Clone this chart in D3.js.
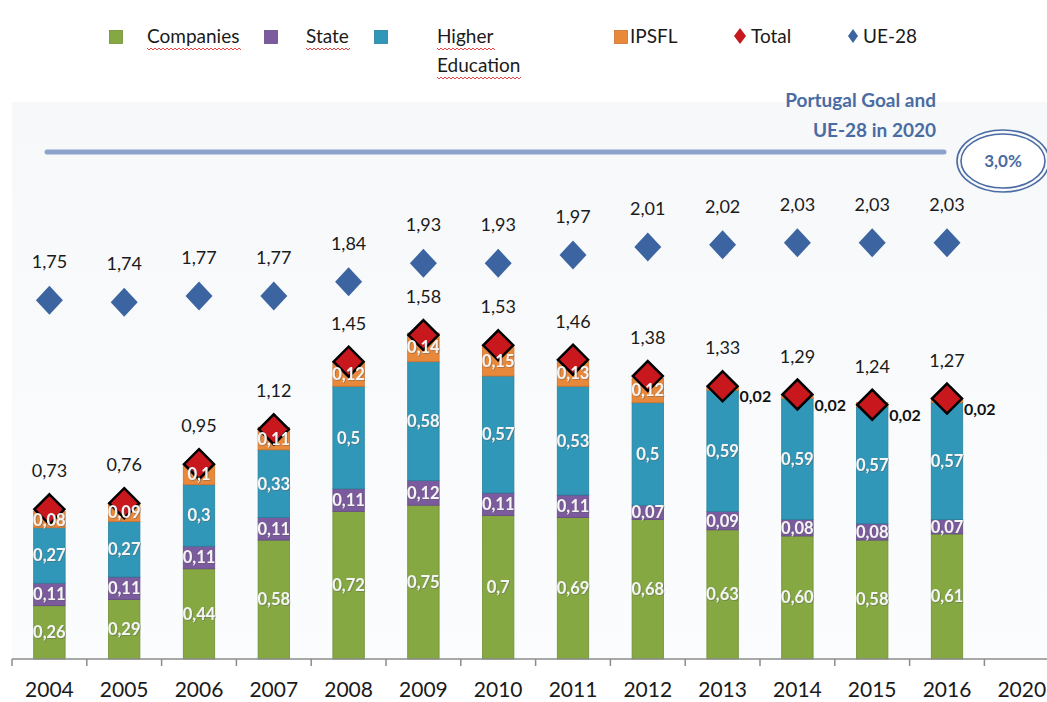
<!DOCTYPE html>
<html>
<head>
<meta charset="utf-8">
<script src="https://cdn.jsdelivr.net/npm/d3@7"></script>
<style>
  html, body { margin: 0; padding: 0; background: #fff; }
  svg { display: block; font-family: Lato, "Open Sans", sans-serif; }
</style>
</head>
<body>
<div id="chart"></div>
<script>
const width = 1047;
const height = 702;

// values as printed on the chart
const years = ['2004', '2005', '2006', '2007', '2008', '2009', '2010', '2011', '2012', '2013', '2014', '2015', '2016', '2020'];
const companies = ['0,26', '0,29', '0,44', '0,58', '0,72', '0,75', '0,7', '0,69', '0,68', '0,63', '0,60', '0,58', '0,61'];
const state = ['0,11', '0,11', '0,11', '0,11', '0,11', '0,12', '0,11', '0,11', '0,07', '0,09', '0,08', '0,08', '0,07'];
const higherEd = ['0,27', '0,27', '0,3', '0,33', '0,5', '0,58', '0,57', '0,53', '0,5', '0,59', '0,59', '0,57', '0,57'];
const ipsfl = ['0,08', '0,09', '0,1', '0,11', '0,12', '0,14', '0,15', '0,13', '0,12', '0,02', '0,02', '0,02', '0,02'];
const total = ['0,73', '0,76', '0,95', '1,12', '1,45', '1,58', '1,53', '1,46', '1,38', '1,33', '1,29', '1,24', '1,27'];
const ue28 = ['1,75', '1,74', '1,77', '1,77', '1,84', '1,93', '1,93', '1,97', '2,01', '2,02', '2,03', '2,03', '2,03'];
const goal = '3,0%';

const num = s => +s.replace(',', '.');

const series = [
  { key: 'Companies', values: companies, fill: '#85a843', stroke: '#6f8f35' },
  { key: 'State', values: state, fill: '#7b5b9e', stroke: '#654a85' },
  { key: 'Higher Education', values: higherEd, fill: '#3197b8', stroke: '#27809d' },
  { key: 'IPSFL', values: ipsfl, fill: '#e8883a', stroke: '#cc7230' }
];

const svg = d3.select('#chart')
  .append('svg')
  .attr('width', width)
  .attr('height', height);

const defs = svg.append('defs');
const grad = defs.append('linearGradient')
  .attr('id', 'bg').attr('x1', 0).attr('y1', 0).attr('x2', 0).attr('y2', 1);
grad.append('stop').attr('offset', '0%').attr('stop-color', '#f6f8fa');
grad.append('stop').attr('offset', '100%').attr('stop-color', '#fbfcfd');

const shadow = defs.append('filter').attr('id', 'shadow')
  .attr('x', '-20%').attr('y', '-30%').attr('width', '140%').attr('height', '160%');
shadow.append('feDropShadow')
  .attr('dx', 0.8).attr('dy', 0.8).attr('stdDeviation', 0.6)
  .attr('flood-color', '#555').attr('flood-opacity', 0.5);

const x = d3.scaleBand()
  .domain(years)
  .range([12, 12 + 74.8 * years.length]);

const y = d3.scaleLinear()
  .domain([0, 2.78])
  .range([659, 89]);

const barW = x.bandwidth() * 0.42;
const cx = yr => x(yr) + x.bandwidth() / 2;

// plot background
svg.append('rect')
  .attr('x', 12).attr('y', 102)
  .attr('width', width - 12).attr('height', y(0) - 102)
  .attr('fill', 'url(#bg)');

// stacked segments
const barYears = years.slice(0, companies.length);
const rows = barYears.map((yr, i) => {
  const row = { year: yr };
  series.forEach(s => { row[s.key] = num(s.values[i]); });
  return row;
});
const stack = d3.stack().keys(series.map(s => s.key))(rows);

const layers = svg.append('g').attr('class', 'bars')
  .selectAll('g')
  .data(stack)
  .join('g')
  .attr('fill', (d, i) => series[i].fill)
  .attr('stroke', (d, i) => series[i].stroke);

layers.selectAll('rect')
  .data(d => d)
  .join('rect')
  .attr('x', d => cx(d.data.year) - barW / 2)
  .attr('y', d => y(d[1]))
  .attr('width', barW)
  .attr('height', d => y(d[0]) - y(d[1]))
  .attr('stroke-width', 0.8);

// diamonds
const diamond = (w, h) => `M0,${-h}L${w},0L0,${h}L${-w},0Z`;

svg.append('g').attr('class', 'total')
  .selectAll('path')
  .data(total)
  .join('path')
  .attr('transform', (d, i) => `translate(${cx(years[i])},${y(num(d))})`)
  .attr('d', diamond(15, 15))
  .attr('fill', '#c8181e')
  .attr('stroke', '#000')
  .attr('stroke-width', 2.5)
  .attr('stroke-linejoin', 'miter');

// segment labels drawn over the diamonds (IPSFL 0,02 goes to the side)
const segLabels = svg.append('g').attr('class', 'seg-labels');
stack.forEach((layer, li) => {
  layer.forEach((d, i) => {
    const txt = series[li].values[i];
    const small = li === 3 && num(txt) < 0.05;
    if (small) {
      segLabels.append('text')
        .attr('x', cx(d.data.year) + 17)
        .attr('y', y(num(total[i])) + 16)
        .attr('font-size', 16)
        .attr('font-weight', 700)
        .attr('fill', '#111')
        .text(txt);
    } else {
      segLabels.append('text')
        .attr('x', cx(d.data.year))
        .attr('y', (y(d[0]) + y(d[1])) / 2)
        .attr('dy', '0.36em')
        .attr('text-anchor', 'middle')
        .attr('font-size', 16.5)
        .attr('font-weight', 700)
        .attr('fill', '#f5f5f5')
        .attr('filter', 'url(#shadow)')
        .text(txt);
    }
  });
});

svg.append('g').attr('class', 'total-labels')
  .selectAll('text')
  .data(total)
  .join('text')
  .attr('x', (d, i) => cx(years[i]))
  .attr('y', d => y(num(d)) - 32)
  .attr('text-anchor', 'middle')
  .attr('font-size', 18)
  .attr('fill', '#1a1a1a')
  .text(d => d);

svg.append('g').attr('class', 'ue28')
  .selectAll('path')
  .data(ue28)
  .join('path')
  .attr('transform', (d, i) => `translate(${cx(years[i])},${y(num(d))})`)
  .attr('d', diamond(13.5, 14.5))
  .attr('fill', '#3b64a0');

svg.append('g').attr('class', 'ue28-labels')
  .selectAll('text')
  .data(ue28)
  .join('text')
  .attr('x', (d, i) => cx(years[i]))
  .attr('y', d => y(num(d)) - 32)
  .attr('text-anchor', 'middle')
  .attr('font-size', 18)
  .attr('fill', '#1a1a1a')
  .text(d => d);

// x axis
const axis = svg.append('g').attr('class', 'axis');
axis.append('line')
  .attr('x1', 12).attr('x2', width)
  .attr('y1', y(0)).attr('y2', y(0))
  .attr('stroke', '#8c8c8c').attr('stroke-width', 1.5);
axis.selectAll('line.tick')
  .data(years)
  .join('line')
  .attr('class', 'tick')
  .attr('x1', d => x(d)).attr('x2', d => x(d))
  .attr('y1', y(0)).attr('y2', y(0) + 7)
  .attr('stroke', '#8c8c8c').attr('stroke-width', 1.5);
axis.selectAll('text')
  .data(years)
  .join('text')
  .attr('x', d => cx(d))
  .attr('y', 697)
  .attr('text-anchor', 'middle')
  .attr('font-size', 21)
  .attr('fill', '#1a1a1a')
  .text(d => d);

// goal annotation
svg.append('line')
  .attr('x1', 47).attr('x2', 944)
  .attr('y1', 152).attr('y2', 152)
  .attr('stroke', '#8ca4cb').attr('stroke-width', 5)
  .attr('stroke-linecap', 'round');

const goalText = svg.append('g')
  .attr('font-size', 19).attr('font-weight', 700)
  .attr('fill', '#4a6ca3').attr('text-anchor', 'end');
goalText.append('text').attr('x', 936).attr('y', 107).text('Portugal Goal and');
goalText.append('text').attr('x', 936).attr('y', 137).text('UE-28 in 2020');

const ell = svg.append('g').attr('transform', 'translate(1003,161)');
ell.append('ellipse').attr('rx', 46).attr('ry', 31)
  .attr('fill', 'none').attr('stroke', '#4a6ca3').attr('stroke-width', 1.6);
ell.append('ellipse').attr('rx', 42).attr('ry', 27)
  .attr('fill', '#fff').attr('stroke', '#4a6ca3').attr('stroke-width', 1.6);
ell.append('text')
  .attr('text-anchor', 'middle').attr('dy', '0.36em')
  .attr('font-size', 17).attr('font-weight', 700).attr('fill', '#4a6ca3')
  .text(goal);

// legend
const legend = svg.append('g').attr('class', 'legend').attr('font-size', 19).attr('fill', '#1a1a1a');

function squiggle(el) {
  const b = el.node().getBBox();
  const y0 = b.y + b.height + 1;
  let d = `M${b.x},${y0}`;
  for (let xx = b.x, k = 0; xx < b.x + b.width; xx += 2, k++) {
    d += `L${xx + 2},${y0 + (k % 2 ? 0 : 2)}`;
  }
  legend.append('path').attr('d', d).attr('fill', 'none')
    .attr('stroke', '#e03030').attr('stroke-width', 0.9);
}

const legendItems = [
  { label: ['Companies'], color: series[0].fill, stroke: series[0].stroke, sx: 116, tx: 147, spell: true },
  { label: ['State'], color: series[1].fill, stroke: series[1].stroke, sx: 271, tx: 306, spell: true },
  { label: ['Higher', 'Education'], color: series[2].fill, stroke: series[2].stroke, sx: 381, tx: 437, spell: true },
  { label: ['IPSFL'], color: series[3].fill, stroke: series[3].stroke, sx: 621, tx: 630, spell: false }
];

legendItems.forEach(it => {
  legend.append('rect')
    .attr('x', it.sx - 6.5).attr('y', 30.5).attr('width', 13).attr('height', 13)
    .attr('fill', it.color).attr('stroke', it.stroke).attr('stroke-width', 0.8);
  it.label.forEach((t, j) => {
    const el = legend.append('text').attr('x', it.tx).attr('y', 43 + j * 29).text(t);
    if (it.spell) squiggle(el);
  });
});

legend.append('path')
  .attr('transform', 'translate(740,36)')
  .attr('d', diamond(6, 8)).attr('fill', '#c8181e');
legend.append('text').attr('x', 751).attr('y', 43).text('Total');
legend.append('path')
  .attr('transform', 'translate(853,36)')
  .attr('d', diamond(5, 7)).attr('fill', '#3b64a0');
legend.append('text').attr('x', 863).attr('y', 43).text('UE-28');
</script>
</body>
</html>
